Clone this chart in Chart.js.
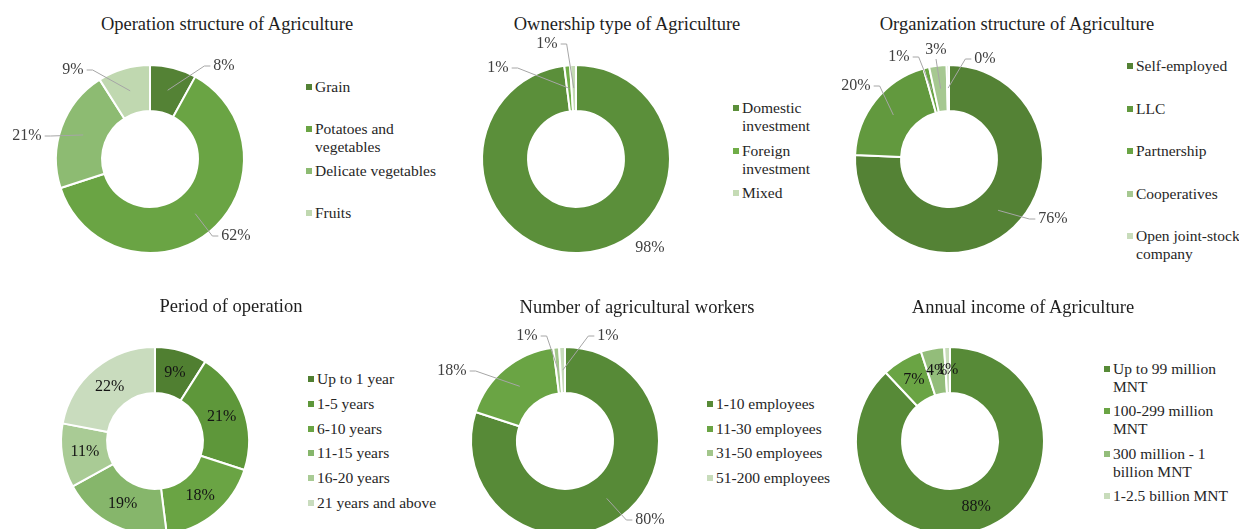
<!DOCTYPE html>
<html>
<head>
<meta charset="utf-8">
<title>Agriculture survey</title>
<script src="https://cdn.jsdelivr.net/npm/chart.js@4.4.1/dist/chart.umd.min.js"></script>
<style>
  html, body { margin: 0; padding: 0; background: #fff; }
  body { width: 1239px; height: 529px; position: relative; overflow: hidden;
         font-family: "Liberation Serif", "Times New Roman", serif; color: #262626; }
  .title { position: absolute; font-size: 18.5px; white-space: nowrap; transform: translate(-50%, -50%); color: #1e1e1e; }
  canvas { position: absolute; }
  .legend { position: absolute; font-size: 15.5px; line-height: 18px; }
  .legend .item { position: relative; padding-left: 9px; box-sizing: border-box; }
  .legend .item i { position: absolute; left: 0; top: 6px; width: 6px; height: 6px; }
</style>
</head>
<body>
<script>
// survey results, shares in percent
const opCategories = ['Grain', 'Potatoes and vegetables', 'Delicate vegetables', 'Fruits'];
const opValues = [8, 62, 21, 9];
const opColors = ['#548235', '#6aa444', '#8dbb72', '#c0d8b0'];

const ownCategories = ['Domestic investment', 'Foreign investment', 'Mixed'];
const ownValues = [98, 1, 1];
const ownColors = ['#5b8f3a', '#70ad47', '#c5dbb5'];

const orgCategories = ['Self-employed', 'LLC', 'Partnership', 'Cooperatives', 'Open joint-stock company'];
const orgValues = [76, 20, 1, 3, 0.4];
const orgColors = ['#548235', '#62993e', '#6aa444', '#a6c891', '#c8dcbb'];

const periodCategories = ['Up to 1 year', '1-5 years', '6-10 years', '11-15 years', '16-20 years', '21 years and above'];
const periodValues = [9, 21, 18, 19, 11, 22];
const periodColors = ['#507f31', '#5e973a', '#6aa444', '#86b66b', '#a9cb95', '#c9dcbe'];

const workerCategories = ['1-10 employees', '11-30 employees', '31-50 employees', '51-200 employees'];
const workerValues = [80, 18, 1, 1];
const workerColors = ['#578a37', '#6aa444', '#a2c68b', '#c8dcbb'];

const incomeCategories = ['Up to 99 million MNT', '100-299 million MNT', '300 million - 1 billion MNT', '1-2.5 billion MNT'];
const incomeValues = [88, 7, 4, 1];
const incomeColors = ['#578a37', '#6aa444', '#93bd7a', '#c8dcbb'];

// where the outside labels sit, relative to the ring centre ([dx, dy, leaderLine])
const opLabelAt = [[74, -93], [86, 77], [-123, -23], [-77, -89]];
const ownLabelAt = [[74, 89, false], [-78, -91], [-29, -115]];
const orgLabelAt = [[104, 60], [-93, -73], [-50, -102], [-13, -109], [36, -100]];
const workerLabelAt = [[85, 79], [-113, -70], [-38, -105], [43, -105]];

// percentage labels, either inside the ring or outside with a leader line
const sliceLabels = {
  id: 'sliceLabels',
  afterDatasetsDraw(chart, args, opts) {
    const ctx = chart.ctx;
    const data = chart.data.datasets[0].data;
    const total = data.reduce((a, b) => a + b, 0);
    const arcs = chart.getDatasetMeta(0).data;
    ctx.save();
    ctx.font = opts.font;
    ctx.fillStyle = opts.color;
    ctx.textAlign = 'center';
    ctx.textBaseline = 'middle';
    arcs.forEach((arc, i) => {
      const text = Math.round(data[i] / total * 100) + '%';
      const p = arc.getCenterPoint();
      if (!opts.offsets) {
        ctx.fillText(text, p.x, p.y);
        return;
      }
      const [dx, dy, lead] = opts.offsets[i];
      const lx = arc.x + dx, ly = arc.y + dy;
      const w = ctx.measureText(text).width;
      if (lead !== false) {
        ctx.beginPath();
        ctx.strokeStyle = '#a6a6a6';
        ctx.lineWidth = 1;
        if (Math.abs(lx - p.x) <= w / 2 + 2) {
          ctx.moveTo(lx, ly + (ly < p.y ? 9 : -9));
          ctx.lineTo(p.x, p.y);
        } else {
          const side = lx > p.x ? -1 : 1;
          const edge = lx + side * (w / 2 + 3);
          ctx.moveTo(p.x, p.y);
          ctx.lineTo(edge + side * 6, ly);
          ctx.lineTo(edge, ly);
        }
        ctx.stroke();
      }
      ctx.fillText(text, lx, ly);
    });
    ctx.restore();
  }
};

function addTitle(text, x, y) {
  const el = document.createElement('div');
  el.className = 'title';
  el.textContent = text;
  el.style.left = x + 'px';
  el.style.top = y + 'px';
  document.body.appendChild(el);
}

function addLegend(categories, colors, lg) {
  const box = document.createElement('div');
  box.className = 'legend';
  box.style.left = lg.x + 'px';
  box.style.top = (lg.y - 9) + 'px';
  box.style.width = lg.width + 'px';
  categories.forEach((c, i) => {
    const item = document.createElement('div');
    item.className = 'item';
    item.style.height = lg.pitch + 'px';
    item.innerHTML = `<i style="background:${colors[i]}"></i>${c}`;
    box.appendChild(item);
  });
  document.body.appendChild(box);
}

function makeDonut(cfg) {
  addTitle(cfg.title, cfg.titleX, cfg.titleY);
  addLegend(cfg.labels, cfg.colors, cfg.legend);
  const canvas = document.createElement('canvas');
  canvas.width = 300; canvas.height = 300;
  canvas.style.left = (cfg.cx - 150) + 'px';
  canvas.style.top = (cfg.cy - 150) + 'px';
  document.body.appendChild(canvas);
  new Chart(canvas, {
    type: 'doughnut',
    data: {
      labels: cfg.labels,
      datasets: [{ data: cfg.values, backgroundColor: cfg.colors, borderColor: '#ffffff', borderWidth: 2 }]
    },
    options: {
      responsive: false,
      animation: false,
      events: [],
      radius: 94,
      cutout: '51%',
      plugins: {
        legend: { display: false },
        tooltip: { enabled: false },
        sliceLabels: {
          offsets: cfg.labelAt,
          font: '16px "Liberation Serif", serif',
          color: cfg.labelAt ? '#404040' : '#141414'
        }
      }
    },
    plugins: [sliceLabels]
  });
}

makeDonut({ title: 'Operation structure of Agriculture', titleX: 227, titleY: 24, cx: 150, cy: 159,
  labels: opCategories, values: opValues, colors: opColors, labelAt: opLabelAt,
  legend: { x: 306, y: 87, pitch: 42, width: 140 } });

makeDonut({ title: 'Ownership type of Agriculture', titleX: 627, titleY: 24, cx: 576, cy: 159,
  labels: ownCategories, values: ownValues, colors: ownColors, labelAt: ownLabelAt,
  legend: { x: 733, y: 108, pitch: 42.5, width: 100 } });

makeDonut({ title: 'Organization structure of Agriculture', titleX: 1017, titleY: 24, cx: 949, cy: 159,
  labels: orgCategories, values: orgValues, colors: orgColors, labelAt: orgLabelAt,
  legend: { x: 1127, y: 66, pitch: 42.5, width: 120 } });

makeDonut({ title: 'Period of operation', titleX: 231, titleY: 306, cx: 155, cy: 441,
  labels: periodCategories, values: periodValues, colors: periodColors, labelAt: null,
  legend: { x: 308, y: 379, pitch: 24.8, width: 200 } });

makeDonut({ title: 'Number of agricultural workers', titleX: 637, titleY: 307, cx: 565, cy: 441,
  labels: workerCategories, values: workerValues, colors: workerColors, labelAt: workerLabelAt,
  legend: { x: 707, y: 404, pitch: 24.7, width: 200 } });

makeDonut({ title: 'Annual income of Agriculture', titleX: 1023, titleY: 307, cx: 950, cy: 441,
  labels: incomeCategories, values: incomeValues, colors: incomeColors, labelAt: null,
  legend: { x: 1104, y: 369, pitch: 42.3, width: 133 } });
</script>
</body>
</html>
